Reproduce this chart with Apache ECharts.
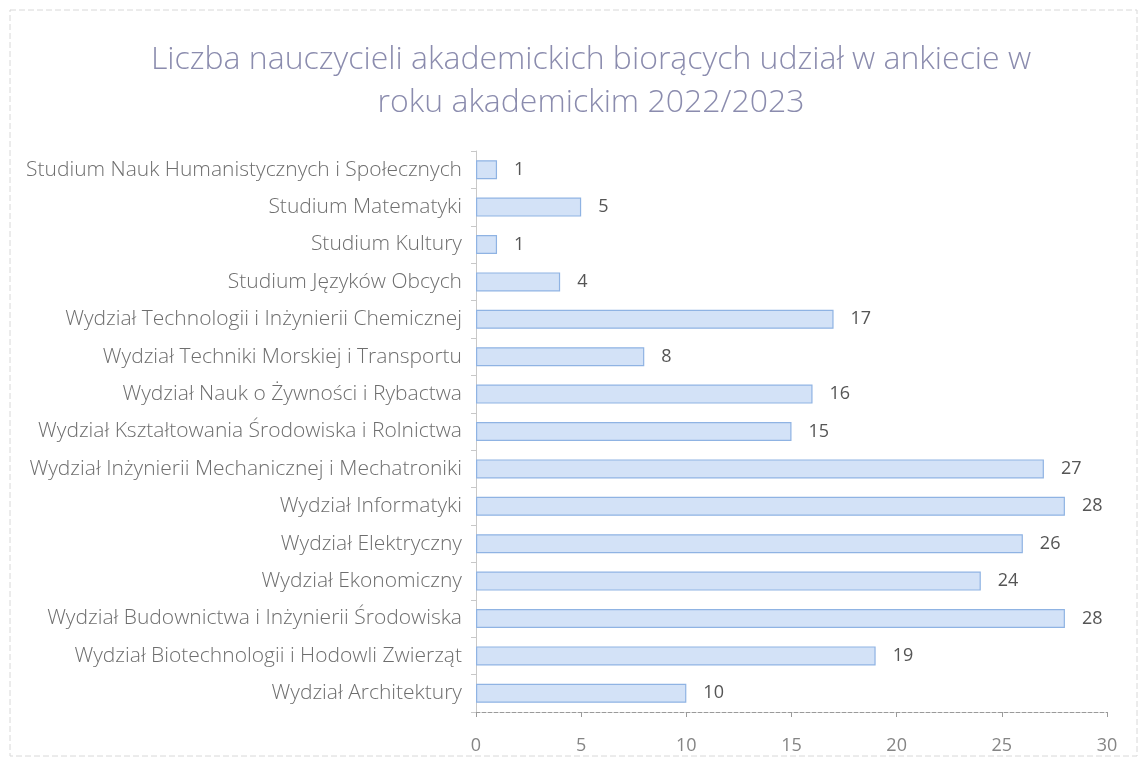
<!DOCTYPE html>
<html><head><meta charset="utf-8">
<script src="https://cdn.jsdelivr.net/npm/echarts@6/dist/echarts.min.js"></script>
<style>html,body{margin:0;padding:0;background:#fff}#c{width:1147px;height:767px}</style>
</head><body><div id="c"></div>
<script>
const categories = [
  "Studium Nauk Humanistycznych i Społecznych",
  "Studium Matematyki",
  "Studium Kultury",
  "Studium Języków Obcych",
  "Wydział Technologii i Inżynierii Chemicznej",
  "Wydział Techniki Morskiej i Transportu",
  "Wydział Nauk o Żywności i Rybactwa",
  "Wydział Kształtowania Środowiska i Rolnictwa",
  "Wydział Inżynierii Mechanicznej i Mechatroniki",
  "Wydział Informatyki",
  "Wydział Elektryczny",
  "Wydział Ekonomiczny",
  "Wydział Budownictwa i Inżynierii Środowiska",
  "Wydział Biotechnologii i Hodowli Zwierząt",
  "Wydział Architektury"
];
const values = [1, 5, 1, 4, 17, 8, 16, 15, 27, 28, 26, 24, 28, 19, 10];
const xTicks = [0, 5, 10, 15, 20, 25, 30];
const titleText = "Liczba nauczycieli akademickich biorących udział w ankiecie w\nroku akademickim 2022/2023";

const chart = echarts.init(document.getElementById('c'));
const font = "Open Sans";
chart.setOption({
  animation: false,
  backgroundColor: '#fff',
  title: {
    text: titleText,
    left: 586, textAlign: 'center', top: 33,
    textStyle: { fontFamily: font, fontWeight: 300, fontSize: 32, color: '#8b8cae', lineHeight: 43 }
  },
  graphic: [{
    type: 'rect', shape: { x: 10, y: 10, width: 1127, height: 746 },
    style: { fill: 'none', stroke: '#d8d8d8', lineWidth: 1, lineDash: [6, 3] }, silent: true
  }],
  grid: { left: 476, right: 40, top: 151, bottom: 55, containLabel: false },
  xAxis: {
    type: 'value', min: 0, max: 30, interval: 5,
    axisLine: { show: true, lineStyle: { color: '#9a9a9a', type: 'dashed' } },
    axisTick: { show: true, length: 5, lineStyle: { color: '#9a9a9a' } },
    splitLine: { show: false },
    axisLabel: { fontFamily: font, fontSize: 18, fontWeight: 'normal', color: '#858585', margin: 25,
      formatter: v => xTicks.includes(v) ? String(v) : '' }
  },
  yAxis: {
    type: 'category', data: categories, inverse: true,
    axisLine: { show: true, lineStyle: { color: '#c8c8c8' } },
    axisTick: { show: true, length: 5, lineStyle: { color: '#c8c8c8' } },
    axisLabel: { fontFamily: font, fontSize: 21, fontWeight: 300, color: '#6e6e6e', margin: 14 }
  },
  series: [{
    type: 'bar', data: values, barWidth: 19,
    itemStyle: { color: '#d3e2f7', borderColor: '#8fb3e3', borderWidth: 1.2 },
    label: { show: true, position: 'right', distance: 17, fontFamily: font, fontSize: 18, color: '#555' }
  }]
});
</script></body></html>
